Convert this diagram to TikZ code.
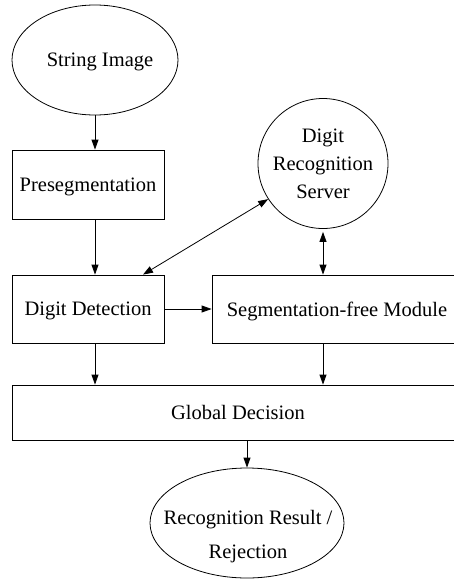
\documentclass[tikz,border=0pt]{standalone}
\usepackage{fontspec}
\setmainfont{Liberation Serif}
\usetikzlibrary{shapes.geometric,arrows.meta}
\begin{document}
\begin{tikzpicture}[x=1pt,y=1pt,
  every node/.style={font=\fontsize{20.5}{24}\selectfont, inner sep=0pt},
  procbox/.style={draw, line width=0.8pt, rectangle, text depth=0pt},
  terminal/.style={draw, line width=0.8pt, ellipse, text depth=0pt},
  server/.style={draw, line width=0.8pt, circle, minimum size=130pt},
  flow/.style={line width=0.8pt, -{Triangle[length=10pt,width=7pt]}},
  biflow/.style={line width=0.8pt, {Triangle[length=10pt,width=7pt]}-{Triangle[length=10pt,width=7pt]}}]
  \path[use as bounding box, clip] (0,0) rectangle (454,-581);

  % nodes
  \node[terminal, minimum width=166pt, minimum height=110pt] (si) at (95,-60) {\hspace*{10pt}String Image};
  \node[procbox, minimum width=152pt, minimum height=69pt] (pre) at (88,-184.5) {Presegmentation};
  \node[procbox, minimum width=152pt, minimum height=68pt] (dd) at (88,-309) {Digit Detection};
  \node[procbox, minimum width=250pt, minimum height=68pt] (seg) at (337,-309) {Segmentation-free Module};
  \node[server, align=center, font=\fontsize{20.5}{28}\selectfont] (srv) at (323,-163.5) {Digit\\Recognition\\Server};
  \node[procbox, minimum width=452pt, minimum height=55pt] (gd) at (238,-412.5) {Global Decision};
  \node[terminal, minimum width=194pt, minimum height=110pt] (res) at (247,-523) {};
  \node[align=center, font=\fontsize{20.5}{34}\selectfont] (restext) at (248,-537) {Recognition Result /\\Rejection};

  % connectors
  \draw[flow] (si.south) -- (si.south |- pre.north);
  \draw[flow] (pre.south -| si.south) -- (dd.north -| si.south);
  \draw[biflow] ([xshift=55pt]dd.north) -- (srv.213);
  \draw[biflow] ([yshift=-3pt]srv.south) -- (srv.south |- seg.north);
  \draw[flow] (dd.east) -- (seg.west);
  \draw[flow] (dd.south -| si.south) -- (gd.north -| si.south);
  \draw[flow] (seg.south -| srv.south) -- (gd.north -| srv.south);
  \draw[flow] (res.north |- gd.south) -- (res.north);
\end{tikzpicture}
\end{document}
